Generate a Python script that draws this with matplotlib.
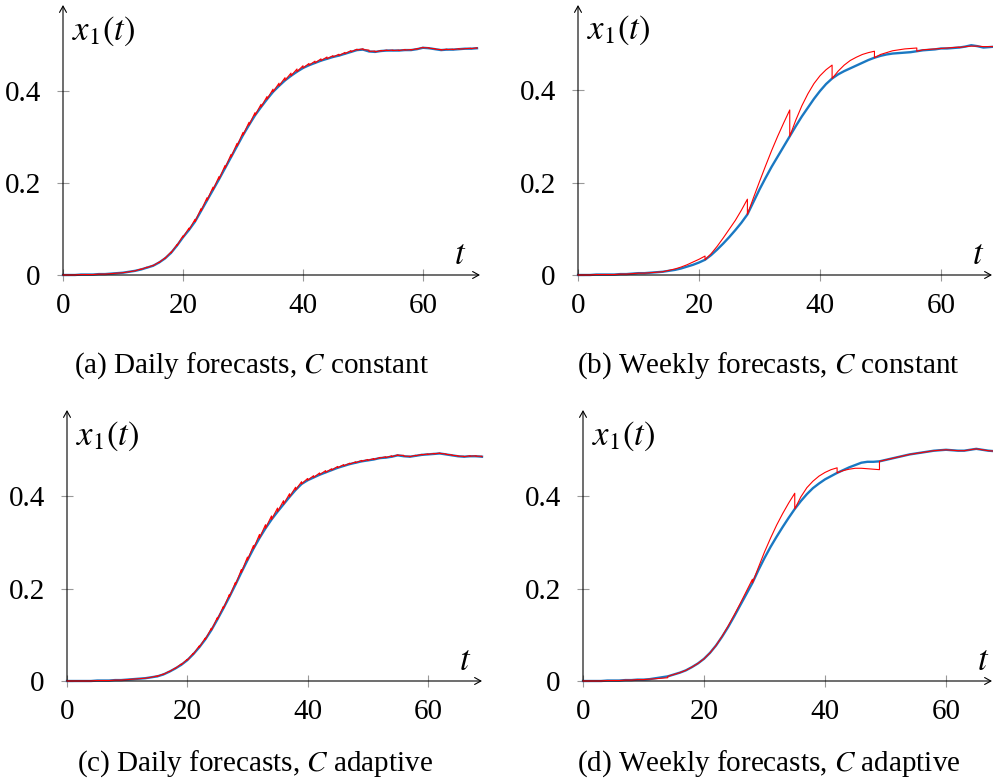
import numpy as np
import matplotlib
matplotlib.use('Agg')
import matplotlib.pyplot as plt

plt.rcParams['font.family'] = ['Liberation Serif', 'DejaVu Serif']
plt.rcParams['mathtext.fontset'] = 'stix'

# ---------------------------------------------------------------
# data: x1(t) at integer days 0..69 (blue = observed / true,
# red = forecast value just before each reset day)
# ---------------------------------------------------------------
days = np.arange(70)

blue_a = [0.000, 0.000, 0.000, 0.001, 0.001, 0.001, 0.002, 0.002, 0.003, 0.004,
          0.005, 0.007, 0.009, 0.012, 0.016, 0.020, 0.027, 0.036, 0.048, 0.064,
          0.082, 0.098, 0.116, 0.139, 0.162, 0.185, 0.208, 0.232, 0.256, 0.280,
          0.304, 0.326, 0.347, 0.365, 0.382, 0.398, 0.411, 0.423, 0.433, 0.442,
          0.450, 0.456, 0.461, 0.466, 0.470, 0.474, 0.477, 0.481, 0.485, 0.489,
          0.490, 0.486, 0.485, 0.487, 0.488, 0.488, 0.488, 0.489, 0.489, 0.491,
          0.494, 0.493, 0.491, 0.489, 0.490, 0.490, 0.491, 0.492, 0.492, 0.493]
red_a = [0.000, 0.000, 0.000, 0.001, 0.001, 0.001, 0.002, 0.002, 0.003, 0.004,
         0.005, 0.007, 0.009, 0.013, 0.017, 0.021, 0.028, 0.037, 0.050, 0.066,
         0.085, 0.102, 0.121, 0.144, 0.168, 0.191, 0.214, 0.238, 0.262, 0.286,
         0.310, 0.332, 0.353, 0.371, 0.388, 0.404, 0.417, 0.429, 0.439, 0.448,
         0.455, 0.460, 0.465, 0.470, 0.474, 0.477, 0.480, 0.484, 0.488, 0.491,
         0.492, 0.489, 0.487, 0.488, 0.489, 0.489, 0.489, 0.490, 0.490, 0.492,
         0.495, 0.494, 0.492, 0.490, 0.491, 0.491, 0.492, 0.492, 0.493, 0.494]

blue_b = [0.000, 0.000, 0.000, 0.001, 0.001, 0.001, 0.001, 0.002, 0.002, 0.003,
          0.004, 0.004, 0.005, 0.006, 0.007, 0.009, 0.011, 0.014, 0.018, 0.022,
          0.027, 0.033, 0.043, 0.055, 0.068, 0.082, 0.097, 0.113, 0.131, 0.158,
          0.185, 0.210, 0.234, 0.256, 0.278, 0.300, 0.322, 0.343, 0.362, 0.381,
          0.398, 0.413, 0.425, 0.434, 0.441, 0.447, 0.453, 0.459, 0.465, 0.470,
          0.474, 0.477, 0.479, 0.480, 0.481, 0.482, 0.484, 0.486, 0.487, 0.488,
          0.490, 0.490, 0.491, 0.492, 0.494, 0.497, 0.495, 0.492, 0.493, 0.494]
red_b = [0.000, 0.000, 0.000, 0.001, 0.001, 0.001, 0.001, 0.002, 0.002, 0.003,
         0.004, 0.004, 0.005, 0.006, 0.007, 0.010, 0.013, 0.017, 0.022, 0.028,
         0.034, 0.041, 0.046, 0.062, 0.080, 0.099, 0.118, 0.140, 0.164, 0.167,
         0.202, 0.236, 0.269, 0.300, 0.329, 0.357, 0.335, 0.366, 0.392, 0.414,
         0.431, 0.444, 0.454, 0.441, 0.454, 0.464, 0.471, 0.477, 0.481, 0.484,
         0.477, 0.481, 0.485, 0.487, 0.489, 0.490, 0.491, 0.487, 0.488, 0.489,
         0.490, 0.491, 0.492, 0.493, 0.494, 0.495, 0.495, 0.494, 0.494, 0.494]

blue_c = [0.000, 0.000, 0.000, 0.000, 0.000, 0.001, 0.001, 0.001, 0.002, 0.002,
          0.003, 0.004, 0.005, 0.006, 0.008, 0.010, 0.014, 0.020, 0.027, 0.035,
          0.045, 0.058, 0.073, 0.090, 0.110, 0.133, 0.157, 0.182, 0.208, 0.235,
          0.261, 0.286, 0.309, 0.330, 0.349, 0.366, 0.382, 0.398, 0.413, 0.426,
          0.434, 0.440, 0.446, 0.451, 0.456, 0.461, 0.465, 0.469, 0.472, 0.475,
          0.477, 0.479, 0.482, 0.483, 0.485, 0.488, 0.486, 0.485, 0.487, 0.489,
          0.490, 0.491, 0.492, 0.490, 0.488, 0.486, 0.485, 0.486, 0.486, 0.485]
red_c = [0.000, 0.000, 0.000, 0.000, 0.000, 0.001, 0.001, 0.001, 0.002, 0.002,
         0.003, 0.004, 0.005, 0.006, 0.008, 0.011, 0.015, 0.021, 0.028, 0.037,
         0.047, 0.060, 0.076, 0.093, 0.114, 0.137, 0.161, 0.187, 0.213, 0.241,
         0.268, 0.293, 0.317, 0.338, 0.357, 0.374, 0.390, 0.405, 0.419, 0.431,
         0.438, 0.444, 0.450, 0.455, 0.459, 0.464, 0.468, 0.471, 0.474, 0.477,
         0.479, 0.481, 0.483, 0.485, 0.487, 0.489, 0.488, 0.486, 0.488, 0.490,
         0.491, 0.492, 0.493, 0.491, 0.489, 0.487, 0.486, 0.487, 0.487, 0.486]

blue_d = [0.000, 0.000, 0.000, 0.000, 0.001, 0.001, 0.001, 0.002, 0.002, 0.003,
          0.003, 0.004, 0.006, 0.008, 0.010, 0.014, 0.018, 0.023, 0.030, 0.038,
          0.048, 0.061, 0.077, 0.096, 0.117, 0.140, 0.164, 0.188, 0.212, 0.240,
          0.266, 0.290, 0.312, 0.333, 0.353, 0.372, 0.389, 0.404, 0.417, 0.427,
          0.436, 0.443, 0.450, 0.456, 0.462, 0.467, 0.472, 0.474, 0.474, 0.475,
          0.478, 0.481, 0.484, 0.487, 0.490, 0.492, 0.494, 0.496, 0.498, 0.499,
          0.500, 0.499, 0.498, 0.498, 0.500, 0.502, 0.500, 0.498, 0.497, 0.497]
red_d = [0.000, 0.000, 0.000, 0.000, 0.001, 0.001, 0.001, 0.002, 0.002, 0.003,
         0.003, 0.004, 0.005, 0.006, 0.007, 0.014, 0.018, 0.023, 0.030, 0.038,
         0.048, 0.061, 0.077, 0.097, 0.119, 0.143, 0.168, 0.194, 0.220, 0.246,
         0.279, 0.309, 0.337, 0.362, 0.385, 0.406, 0.398, 0.418, 0.432, 0.443,
         0.451, 0.457, 0.461, 0.455, 0.458, 0.460, 0.460, 0.459, 0.458, 0.457,
         0.478, 0.481, 0.484, 0.487, 0.490, 0.492, 0.494, 0.496, 0.498, 0.499,
         0.500, 0.499, 0.498, 0.498, 0.500, 0.502, 0.500, 0.498, 0.497, 0.497]

daily_resets = list(range(1, 70))
weekly_resets = [14, 21, 28, 35, 42, 49, 56, 63]

captions = ['(a) Daily forecasts, $C$ constant',
            '(b) Weekly forecasts, $C$ constant',
            '(c) Daily forecasts, $C$ adaptive',
            '(d) Weekly forecasts, $C$ adaptive']

BLUE = '#1a78c2'
RED = '#ff0000'
W, H = 993, 782
FS = 21


def forecast_path(blue, red, resets):
    """red line: forecast value before reset, then jump back to the observation."""
    tt, yy = [days[0]], [red[0]]
    for k in days[1:]:
        tt.append(k)
        yy.append(red[k])
        if k in resets:
            tt.append(k)
            yy.append(blue[k])
    return tt, yy


def make_axes(fig, left, right, y0, top, xmax, ymax):
    ax = fig.add_axes([left / W, 1 - y0 / H, (right - left) / W, (y0 - top) / H])
    ax.set_xlim(0, xmax)
    ax.set_ylim(0, ymax)
    for s in ax.spines.values():
        s.set_visible(False)
    ax.set_xticks([0, 20, 40, 60])
    ax.set_yticks([0, 0.2, 0.4])
    ax.set_yticklabels(['0', '0.2', '0.4'])
    ax.tick_params(direction='inout', length=8, width=0.8, color='#999999',
                   labelsize=FS)
    ax.tick_params(axis='x', pad=9)
    ax.tick_params(axis='y', pad=12)
    arrow = dict(arrowstyle='->,head_length=0.45,head_width=0.25', lw=0.8,
                 color='black', shrinkA=0, shrinkB=0, mutation_scale=10)
    ax.annotate('', xy=(1, 0), xytext=(0, 0), xycoords='axes fraction',
                arrowprops=arrow, annotation_clip=False)
    ax.annotate('', xy=(0, 1), xytext=(0, 0), xycoords='axes fraction',
                arrowprops=arrow, annotation_clip=False)
    ax.text(1.5, 0.53, '$x_1(t)$', fontsize=25, ha='left', va='center')
    ax.text(66.2, 0.043, '$t$', fontsize=25, ha='center', va='center')
    return ax


fig = plt.figure(figsize=(W / 100, H / 100), dpi=100)

panels = [
    # blue, red, resets, (left, right, y0, top, xmax, ymax), caption baseline
    (blue_a, red_a, daily_resets, (63, 480, 275, 5, 69.5, 0.587), (252, 373)),
    (blue_b, red_b, weekly_resets, (578, 992, 275, 5, 68.43, 0.584), (768, 373)),
    (blue_c, red_c, daily_resets, (67, 482, 681, 410, 69.0, 0.586), (255, 771)),
    (blue_d, red_d, weekly_resets, (583, 992, 681, 410, 67.6, 0.586), (769, 771)),
]

for (blue, red, resets, box, cap_xy), cap in zip(panels, captions):
    ax = make_axes(fig, *box)
    ax.plot(days, blue, color=BLUE, lw=1.7, clip_on=False, zorder=2,
            solid_joinstyle='round')
    tt, yy = forecast_path(blue, red, resets)
    ax.plot(tt, yy, color=RED, lw=0.8, clip_on=False, zorder=3)
    fig.text(cap_xy[0] / W, 1 - cap_xy[1] / H, cap, fontsize=FS,
             ha='center', va='baseline')

fig.savefig('out.png', dpi=100)
